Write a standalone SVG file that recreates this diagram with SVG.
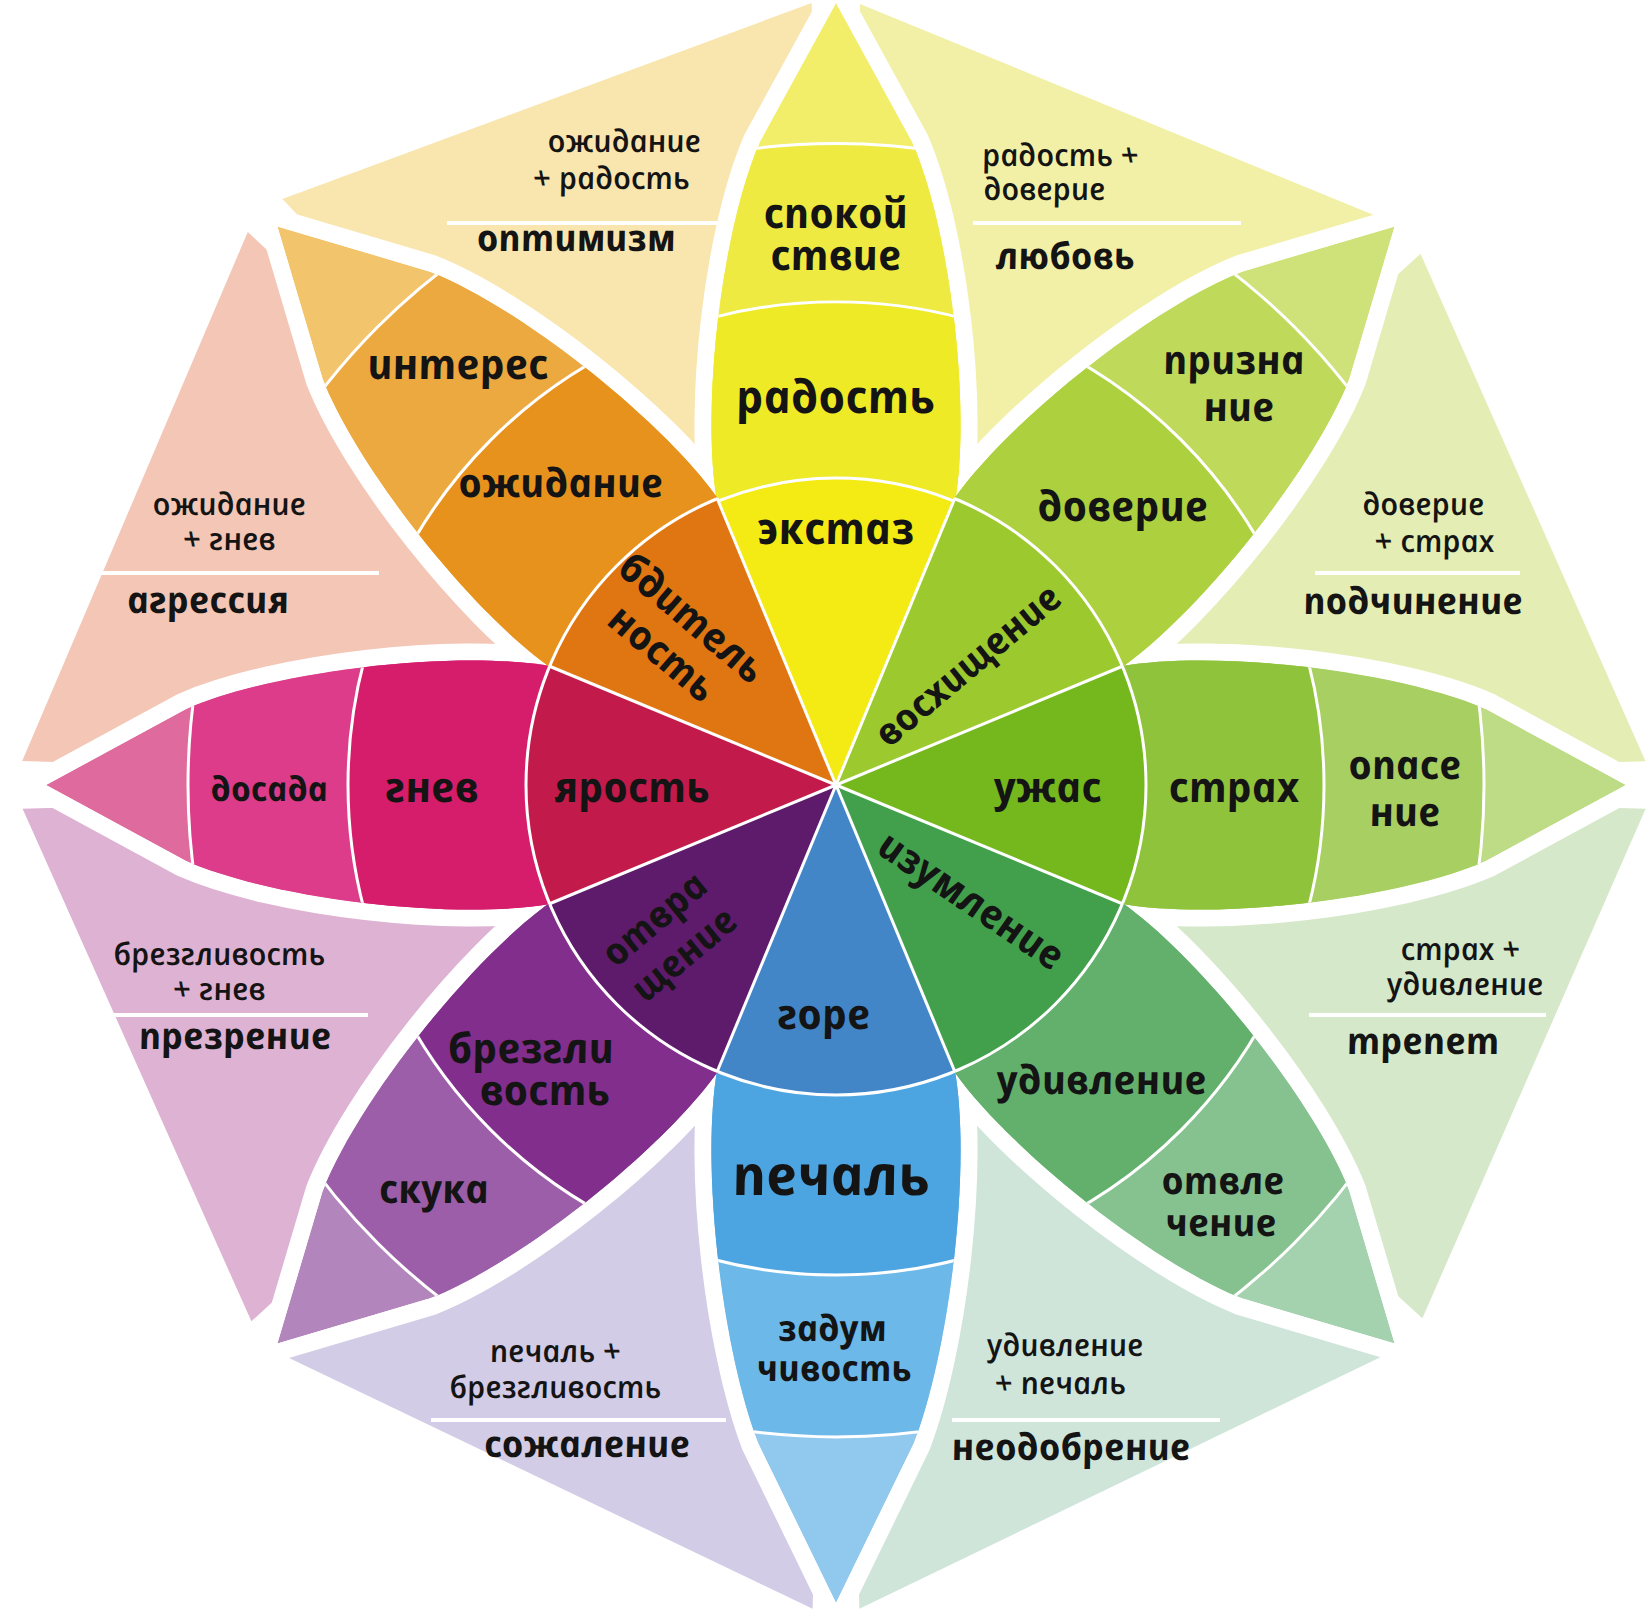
<svg xmlns="http://www.w3.org/2000/svg" width="1649" height="1618" viewBox="0 0 1649 1618">
<defs>
<style>
.lbl{font-family:"Open Sans","Noto Sans","DejaVu Sans",sans-serif;font-style:italic;font-weight:700;fill:#141414;text-anchor:middle}
.p{font-size:42px}
.t{font-size:31px;font-weight:600}
.tb{font-size:37px}
.sep{stroke:#fff;stroke-width:4}
.band{fill:none;stroke:#fff;stroke-width:3}
.wl{stroke:#fff;stroke-width:3}
</style>
<path id="petal" d="M0,0 L286,-119 C380,-135 560,-115 650,-76 L790,0 L650,76 C560,115 380,135 286,119 Z"/>
<path id="petalL" d="M0,0 L286,-119 C380,-135 560,-115 658,-78 L818,0 L658,78 C560,115 380,135 286,119 Z"/>
<clipPath id="cp"><use href="#petal"/></clipPath>
<clipPath id="cpL"><use href="#petalL"/></clipPath>
</defs>
<rect width="1649" height="1618" fill="#fff"/>

<!-- background triangles (combined emotions) -->
<g id="dyads">
<g id="optimism"><polygon points="836,785 282.4,199 811.6,3" fill="#f8e6ae"/></g>
<g id="love"><polygon points="836,785 860,3.9 1386,220.1" fill="#f2f0a6"/></g>
<g id="submission"><polygon points="836,785 1420.5,253.8 1645.5,761.2" fill="#e4edb4"/></g>
<g id="awe"><polygon points="836,785 1645.6,808.8 1422.4,1318.2" fill="#d5e8c9"/></g>
<g id="disapproval"><polygon points="836,785 1388.6,1353.3 859.4,1608.7" fill="#cfe5da"/></g>
<g id="remorse"><polygon points="836,785 812.6,1608.8 285.4,1356.2" fill="#d2cce6"/></g>
<g id="contempt"><polygon points="836,785 251.4,1321.3 22.6,808.7" fill="#deb2d2"/></g>
<g id="aggression"><polygon points="836,785 22.2,761.1 247.8,231.9" fill="#f3c6b6"/></g>
</g>

<!-- white rims around petals -->
<g id="rims" fill="#fff" stroke="#fff" stroke-width="34" stroke-linejoin="round">
<use href="#petal" transform="translate(836,785) rotate(-90) scale(0.99,1)"/>
<use href="#petal" transform="translate(836,785) rotate(-45)"/>
<use href="#petal" transform="translate(836,785)"/>
<use href="#petal" transform="translate(836,785) rotate(45)"/>
<use href="#petalL" transform="translate(836,785) rotate(90)"/>
<use href="#petal" transform="translate(836,785) rotate(135)"/>
<use href="#petal" transform="translate(836,785) rotate(180)"/>
<use href="#petal" transform="translate(836,785) rotate(-135)"/>
</g>

<!-- dyad labels -->
<g id="dyad-labels">
<g id="lbl-optimism">
<line class="sep" x1="447" y1="223" x2="726" y2="223"/>
<text class="lbl t" transform="translate(626,152) skewX(11)">ожидание</text>
<text class="lbl t" transform="translate(613,189) skewX(11)">+ радость</text>
<text class="lbl tb" transform="translate(578,251) skewX(11)">оптимизм</text>
</g>
<g id="lbl-love">
<line class="sep" x1="973" y1="223" x2="1241" y2="223"/>
<text class="lbl t" transform="translate(1062,166) skewX(11)">радость +</text>
<text class="lbl t" transform="translate(1046,200) skewX(11)">доверие</text>
<text class="lbl tb" transform="translate(1067,269) skewX(11)">любовь</text>
</g>
<g id="lbl-submission">
<line class="sep" x1="1315" y1="573" x2="1520" y2="573"/>
<text class="lbl t" transform="translate(1425,515) skewX(11)">доверие</text>
<text class="lbl t" transform="translate(1436,552) skewX(11)">+ страх</text>
<text class="lbl tb" transform="translate(1415,614) skewX(11)">подчинение</text>
</g>
<g id="lbl-aggression">
<line class="sep" x1="100" y1="573" x2="379" y2="573"/>
<text class="lbl t" transform="translate(231,515) skewX(11)">ожидание</text>
<text class="lbl t" transform="translate(231,550) skewX(11)">+ гнев</text>
<text class="lbl tb" transform="translate(210,613) skewX(11)">агрессия</text>
</g>
<g id="lbl-contempt">
<line class="sep" x1="105" y1="1015" x2="368" y2="1015"/>
<text class="lbl t" transform="translate(221,965) skewX(11)">брезгливость</text>
<text class="lbl t" transform="translate(221,1000) skewX(11)">+ гнев</text>
<text class="lbl tb" transform="translate(237,1049) skewX(11)">презрение</text>
</g>
<g id="lbl-awe">
<line class="sep" x1="1309" y1="1015" x2="1546" y2="1015"/>
<text class="lbl t" transform="translate(1462,960) skewX(11)">страх +</text>
<text class="lbl t" transform="translate(1467,995) skewX(11)">удивление</text>
<text class="lbl tb" transform="translate(1425,1054) skewX(11)">трепет</text>
</g>
<g id="lbl-remorse">
<line class="sep" x1="431" y1="1420" x2="726" y2="1420"/>
<text class="lbl t" transform="translate(557,1362) skewX(11)">печаль +</text>
<text class="lbl t" transform="translate(557,1398) skewX(11)">брезгливость</text>
<text class="lbl tb" transform="translate(589,1457) skewX(11)">сожаление</text>
</g>
<g id="lbl-disapproval">
<line class="sep" x1="952" y1="1420" x2="1220" y2="1420"/>
<text class="lbl t" transform="translate(1067,1356) skewX(11)">удивление</text>
<text class="lbl t" transform="translate(1062,1394) skewX(11)">+ печаль</text>
<text class="lbl tb" transform="translate(1073,1460) skewX(11)">неодобрение</text>
</g>
</g>

<!-- petals -->
<g id="joy">
<g transform="translate(836,785) rotate(-90) scale(0.99,1)" clip-path="url(#cp)">
<use href="#petal" fill="#f2ee6a"/>
<circle r="648" fill="#eeea42"/>
<circle r="488" fill="#efea26"/>
<circle r="310" fill="#f4ea14"/>
<circle r="648" class="band"/><circle r="488" class="band"/><circle r="310" class="band"/>
</g>
</g>
<g id="trust">
<g transform="translate(836,785) rotate(-45)" clip-path="url(#cp)">
<use href="#petal" fill="#cfe27a"/>
<circle r="648" fill="#bfd95a"/>
<circle r="488" fill="#acd03e"/>
<circle r="310" fill="#9cc92e"/>
<circle r="648" class="band"/><circle r="488" class="band"/><circle r="310" class="band"/>
</g>
</g>
<g id="fear">
<g transform="translate(836,785)" clip-path="url(#cp)">
<use href="#petal" fill="#bedb86"/>
<circle r="648" fill="#a7cf62"/>
<circle r="488" fill="#8fc33c"/>
<circle r="310" fill="#74b81e"/>
<circle r="648" class="band"/><circle r="488" class="band"/><circle r="310" class="band"/>
</g>
</g>
<g id="surprise">
<g transform="translate(836,785) rotate(45)" clip-path="url(#cp)">
<use href="#petal" fill="#a4d2ae"/>
<circle r="648" fill="#86c190"/>
<circle r="488" fill="#62b06c"/>
<circle r="310" fill="#42a04c"/>
<circle r="648" class="band"/><circle r="488" class="band"/><circle r="310" class="band"/>
</g>
</g>
<g id="sadness">
<g transform="translate(836,785) rotate(90)" clip-path="url(#cpL)">
<use href="#petalL" fill="#90c8ee"/>
<circle r="652" fill="#6cb8e8"/>
<circle r="490" fill="#4ca4e0"/>
<circle r="310" fill="#4286c8"/>
<circle r="652" class="band"/><circle r="490" class="band"/><circle r="310" class="band"/>
</g>
</g>
<g id="disgust">
<g transform="translate(836,785) rotate(135)" clip-path="url(#cp)">
<use href="#petal" fill="#b286bc"/>
<circle r="648" fill="#9d5ea9"/>
<circle r="488" fill="#822e8c"/>
<circle r="310" fill="#5f1b6b"/>
<circle r="648" class="band"/><circle r="488" class="band"/><circle r="310" class="band"/>
</g>
</g>
<g id="anger">
<g transform="translate(836,785) rotate(180)" clip-path="url(#cp)">
<use href="#petal" fill="#de6a9e"/>
<circle r="648" fill="#dc3c8a"/>
<circle r="488" fill="#d61d6c"/>
<circle r="310" fill="#c21a4a"/>
<circle r="648" class="band"/><circle r="488" class="band"/><circle r="310" class="band"/>
</g>
</g>
<g id="anticipation">
<g transform="translate(836,785) rotate(-135)" clip-path="url(#cp)">
<use href="#petal" fill="#f2c56c"/>
<circle r="648" fill="#eca940"/>
<circle r="488" fill="#e8921e"/>
<circle r="310" fill="#e07612"/>
<circle r="648" class="band"/><circle r="488" class="band"/><circle r="310" class="band"/>
</g>
</g>

<!-- wedge separators -->
<g id="connectors" transform="translate(836,785)">
<line class="wl" x1="0" y1="0" x2="287" y2="119"/>
<line class="wl" x1="0" y1="0" x2="119" y2="287"/>
<line class="wl" x1="0" y1="0" x2="-119" y2="287"/>
<line class="wl" x1="0" y1="0" x2="-287" y2="119"/>
<line class="wl" x1="0" y1="0" x2="-287" y2="-119"/>
<line class="wl" x1="0" y1="0" x2="-119" y2="-287"/>
<line class="wl" x1="0" y1="0" x2="119" y2="-287"/>
<line class="wl" x1="0" y1="0" x2="287" y2="-119"/>
</g>

<!-- petal labels -->
<g id="petal-labels">
<text class="lbl" style="font-size:44px" transform="translate(838,544) skewX(11)">экстаз</text>
<text class="lbl" style="font-size:46px" transform="translate(838,413) skewX(11)">радость</text>
<text class="lbl p" transform="translate(838,228) skewX(11)">спокой</text>
<text class="lbl p" transform="translate(838,270) skewX(11)">ствие</text>

<text class="lbl" style="font-size:40px" transform="translate(563,497) skewX(11)">ожидание</text>
<text class="lbl p" transform="translate(460,379) skewX(11)">интерес</text>
<g transform="translate(677,639) rotate(40)">
<text class="lbl" style="font-size:40px" transform="translate(0,-12) skewX(11)">бдитель</text>
<text class="lbl" style="font-size:40px" transform="translate(0,34) skewX(11)">ность</text>
</g>

<g transform="translate(970,665) rotate(-40)">
<text class="lbl" style="font-size:38px" transform="translate(0,12) skewX(11)">восхищение</text>
</g>
<text class="lbl p" transform="translate(1125,521) skewX(11)">доверие</text>
<text class="lbl" style="font-size:40px" transform="translate(1236,374) skewX(11)">призна</text>
<text class="lbl" style="font-size:40px" transform="translate(1241,421) skewX(11)">ние</text>

<text class="lbl p" transform="translate(1050,802) skewX(11)">ужас</text>
<text class="lbl p" transform="translate(1236,802) skewX(11)">страх</text>
<text class="lbl" style="font-size:40px" transform="translate(1407,779) skewX(11)">опасе</text>
<text class="lbl" style="font-size:40px" transform="translate(1407,826) skewX(11)">ние</text>

<g transform="translate(972,903) rotate(34)">
<text class="lbl" style="font-size:40px" transform="translate(0,12) skewX(11)">изумление</text>
</g>
<text class="lbl" style="font-size:40px" transform="translate(1104,1094) skewX(11)">удивление</text>
<text class="lbl" style="font-size:38px" transform="translate(1225,1194) skewX(11)">отвле</text>
<text class="lbl" style="font-size:38px" transform="translate(1223,1236) skewX(11)">чение</text>

<text class="lbl p" transform="translate(826,1029) skewX(11)">горе</text>
<text class="lbl" style="font-size:56px" transform="translate(834,1195) skewX(11)">печаль</text>
<text class="lbl" style="font-size:36px" transform="translate(834,1341) skewX(11)">задум</text>
<text class="lbl" style="font-size:36px" transform="translate(836,1381) skewX(11)">чивость</text>

<g transform="translate(672,937) rotate(-40)">
<text class="lbl" style="font-size:38px" transform="translate(0,-12) skewX(11)">отвра</text>
<text class="lbl" style="font-size:38px" transform="translate(0,34) skewX(11)">щение</text>
</g>
<text class="lbl p" transform="translate(533,1063) skewX(11)">брезгли</text>
<text class="lbl p" transform="translate(547,1105) skewX(11)">вость</text>
<text class="lbl" style="font-size:40px" transform="translate(436,1203) skewX(11)">скука</text>

<text class="lbl p" transform="translate(634,802) skewX(11)">ярость</text>
<text class="lbl p" transform="translate(434,802) skewX(11)">гнев</text>
<text class="lbl" style="font-size:34px" transform="translate(271,801) skewX(11)">досада</text>
</g>
</svg>
